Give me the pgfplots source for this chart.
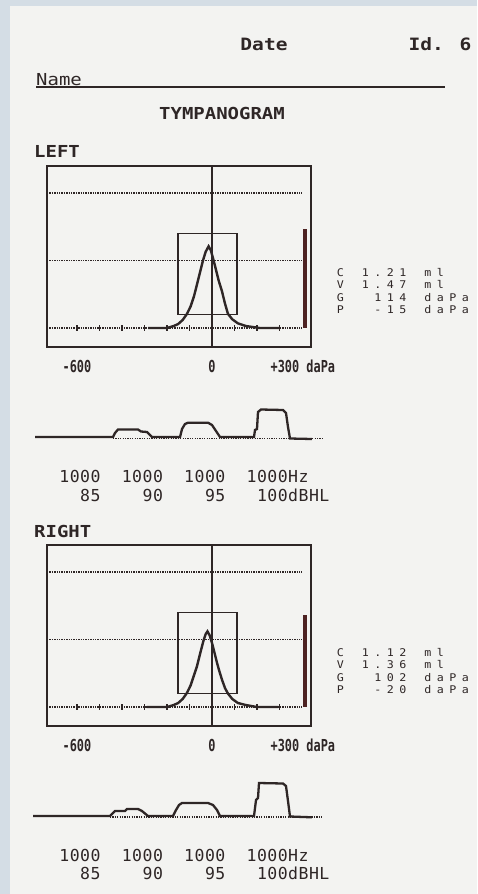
\documentclass[border=0pt]{standalone}
\usepackage{pgfplots}
\pgfplotsset{compat=1.18}
\usepackage{fontspec}
\setmainfont{DejaVu Sans Mono}
\newfontfamily\hdr[FakeStretch=1.15]{DejaVu Sans Mono}
\newfontfamily\tickf[FakeStretch=0.72]{DejaVu Sans Mono}
\newfontfamily\mono{DejaVu Sans Mono}
\newfontfamily\valf[FakeStretch=1.1]{DejaVu Sans Mono}
\definecolor{ink}{HTML}{2E2626}
\definecolor{barc}{HTML}{4D2222}
\definecolor{paper}{HTML}{F3F3F1}
\definecolor{frame}{HTML}{D4DDE5}
\newlength\cellw
\def\cells#1#2{\setlength\cellw{#1}\cellsA#2\relax}
\def\cellsA#1{\ifx#1\relax\else\makebox[\cellw][c]{#1}\expandafter\cellsA\fi}
\pgfplotsset{
  tymp/.style={anchor=north west, scale only axis, width=264pt, height=181pt,
    xmin=-733, xmax=440, ymin=-0.281, ymax=2.4,
    axis line style={ink, line width=2.2pt},
    xtick={-600,0,300},
    xticklabels={{-600\hspace{16pt}},{0},{\hspace{11pt}+300\rlap{ daPa}}},
    ytick=\empty, major tick length=0pt,
    xticklabel style={anchor=base, yshift=-25pt, inner sep=0pt, text=ink,
      font=\tickf\bfseries\fontsize{16.5}{16.5}\selectfont}},
  gridl/.style={ink, line width=1.2pt, dash pattern=on 1.4pt off 1pt},
  reflex/.style={anchor=north west, scale only axis, width=300pt, height=50pt,
    xmin=0, xmax=300, ymin=-10, ymax=40, hide axis},
}
\begin{document}
\begin{tikzpicture}
\useasboundingbox (0,0) rectangle (477pt,-894pt);
\fill[frame] (0,0) rectangle (477pt,-894pt);
\fill[paper] (10pt,-6pt) rectangle (477pt,-894pt);
% header
\node[anchor=base, inner sep=0, text=ink, font=\hdr\bfseries\fontsize{17}{17}\selectfont] at (264pt,-50pt) {Date};
\node[anchor=base, inner sep=0, text=ink, font=\hdr\bfseries\fontsize{17}{17}\selectfont] at (440pt,-50pt) {Id. 6};
\node[anchor=base west, inner sep=0, text=ink, font=\hdr\fontsize{16.5}{16.5}\selectfont] at (36pt,-85pt) {Name};
\draw[ink, line width=1.3pt] (36pt,-87pt) -- (445pt,-87pt);
\node[anchor=base, inner sep=0, text=ink, font=\hdr\bfseries\fontsize{16.5}{16.5}\selectfont] at (222pt,-119.5pt) {TYMPANOGRAM};
\node[anchor=base west, inner sep=0, text=ink, font=\hdr\bfseries\fontsize{16.5}{16.5}\selectfont] at (34pt,-157pt) {LEFT};
\node[anchor=base west, inner sep=0, text=ink, font=\hdr\bfseries\fontsize{16.5}{16.5}\selectfont] at (34pt,-537pt) {RIGHT};
% ---------------- LEFT tympanogram
\begin{axis}[tymp, at={(47pt,-166pt)}]
\addplot[gridl] coordinates {(-733,2) (402,2)};
\addplot[gridl] coordinates {(-733,1) (402,1)};
\addplot[gridl] coordinates {(-733,0) (402,0)};
\addplot[only marks, mark=|, mark size=3pt, mark options={ink, line width=1.8pt}]
  coordinates {(-600,0) (-500,0) (-400,0) (-300,0) (-200,0) (-100,0) (100,0) (200,0) (300,0)};
\addplot[ink, line width=1.2pt] coordinates {(0,-0.281) (0,2.4)};
\addplot[ink, line width=1.9pt, line join=miter] coordinates {(-150,0.2) (-150,1.4) (110,1.4) (110,0.2) (-150,0.2) (-150,1.4)};
\addplot[fill=barc, draw=none] coordinates {(404,0) (404,1.47) (422,1.47) (422,0)};
\addplot[ink, line width=2.4pt] coordinates {
(-284,0) (-200,0) (-170,0.03) (-150,0.06) (-130,0.12) (-111,0.21) (-95,0.32)
(-80,0.47) (-70,0.6) (-55,0.8) (-40,1.0) (-28,1.13) (-15,1.21) (-5,1.15)
(5,1.03) (15,0.9) (30,0.7) (44,0.55) (58,0.36) (71,0.21) (90,0.13) (115,0.07)
(150,0.03) (213,0) (302,0)};
\end{axis}
% values
\begin{scope}[every node/.style={anchor=base west, inner sep=0, text=ink, font=\valf\fontsize{10.6}{10.6}\selectfont}]
\node at (334pt,-276.5pt) {\cells{12.5pt}{C~1.21~ml}};
\node at (334pt,-288.8pt) {\cells{12.5pt}{V~1.47~ml}};
\node at (334pt,-301.1pt) {\cells{12.5pt}{G~~114~daPa}};
\node at (334pt,-313.4pt) {\cells{12.5pt}{P~~-15~daPa}};
\node at (334pt,-656.5pt) {\cells{12.5pt}{C~1.12~ml}};
\node at (334pt,-668.8pt) {\cells{12.5pt}{V~1.36~ml}};
\node at (334pt,-681.1pt) {\cells{12.5pt}{G~~102~daPa}};
\node at (334pt,-693.4pt) {\cells{12.5pt}{P~~-20~daPa}};
\end{scope}
% ---------------- LEFT reflex
\begin{axis}[reflex, at={(30pt,-397pt)}]
\addplot[ink, line width=1.1pt, dash pattern=on 1.2pt off 1.2pt] coordinates {(83,-1.2) (292,-1.2)};
\addplot[ink, line width=2.3pt] coordinates {
(5,0) (83,0) (85,4) (88,7.5) (108,7.5) (111,5.5) (117,5) (122,0)
(150,0) (152,8) (155,13) (158,14.3) (178,14.3) (182,12) (186,6) (190,0)
(224,0) (225,7) (227,8) (228,25) (231,27.5) (253,27) (256,24) (258,10) (260,-1.5) (282,-2)};
\end{axis}
\begin{scope}[every node/.style={anchor=base west, inner sep=0, text=ink, font=\mono\fontsize{16.5}{16.5}\selectfont}]
\node at (59pt,-482.7pt) {\cells{10.4pt}{1000~~1000~~1000~~1000Hz}};
\node at (59pt,-501.7pt) {\cells{10.4pt}{~~85~~~~90~~~~95~~~100dBHL}};
\node at (59pt,-861pt) {\cells{10.4pt}{1000~~1000~~1000~~1000Hz}};
\node at (59pt,-879.5pt) {\cells{10.4pt}{~~85~~~~90~~~~95~~~100dBHL}};
\end{scope}
% ---------------- RIGHT tympanogram
\begin{axis}[tymp, at={(47pt,-545pt)}]
\addplot[gridl] coordinates {(-733,2) (402,2)};
\addplot[gridl] coordinates {(-733,1) (402,1)};
\addplot[gridl] coordinates {(-733,0) (402,0)};
\addplot[only marks, mark=|, mark size=3pt, mark options={ink, line width=1.8pt}]
  coordinates {(-600,0) (-500,0) (-400,0) (-300,0) (-200,0) (-100,0) (100,0) (200,0) (300,0)};
\addplot[ink, line width=1.2pt] coordinates {(0,-0.281) (0,2.4)};
\addplot[ink, line width=1.9pt, line join=miter] coordinates {(-150,0.2) (-150,1.4) (110,1.4) (110,0.2) (-150,0.2) (-150,1.4)};
\addplot[fill=barc, draw=none] coordinates {(404,0) (404,1.36) (422,1.36) (422,0)};
\addplot[ink, line width=2.4pt] coordinates {
(-290,0) (-200,0) (-170,0.03) (-150,0.06) (-130,0.12) (-111,0.21) (-95,0.32)
(-80,0.47) (-67,0.6) (-52,0.8) (-38,0.98) (-28,1.08) (-20,1.12) (-10,1.06)
(0,0.95) (10,0.82) (22,0.66) (32,0.54) (45,0.4) (58,0.28) (71,0.2) (90,0.12)
(115,0.06) (150,0.03) (200,0) (295,0)};
\end{axis}
% ---------------- RIGHT reflex
\begin{axis}[reflex, at={(30pt,-776pt)}]
\addplot[ink, line width=1.1pt, dash pattern=on 1.2pt off 1.2pt] coordinates {(80,-1) (292,-1)};
\addplot[ink, line width=2.3pt] coordinates {
(3,0) (80,0) (83,3) (85,5) (95,5) (97,7) (108,7) (112,5) (118,0)
(143,0) (146,6) (149,11) (152,13) (178,13) (183,11) (187,6) (190,0)
(224,0) (226,16) (228,18) (229,33) (253,32.5) (256,30) (258,15) (260,-0.5) (282,-1.3)};
\end{axis}
\end{tikzpicture}
\end{document}
